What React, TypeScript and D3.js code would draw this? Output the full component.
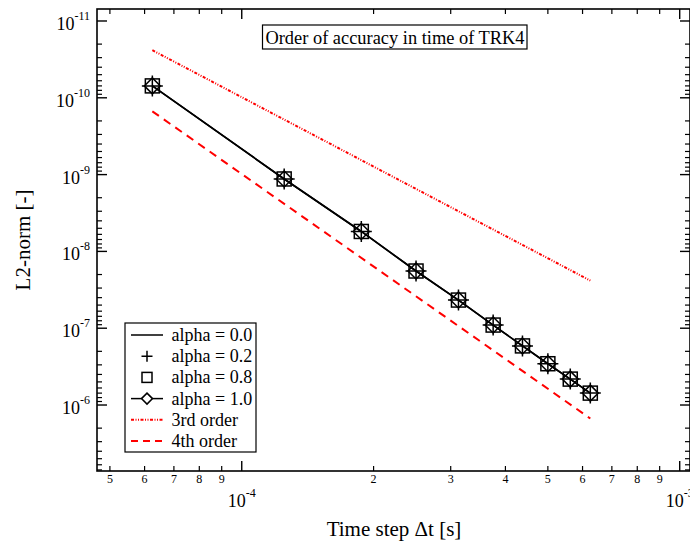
import React from "react";
import * as d3 from "d3";

const dt = [6.25e-5, 1.25e-4, 1.875e-4, 2.5e-4, 3.125e-4, 3.75e-4, 4.375e-4, 5e-4, 5.625e-4, 6.25e-4];
const errAlpha00 = [7.0e-11, 1.14e-9, 5.5e-9, 1.8e-8, 4.3e-8, 9.1e-8, 1.7e-7, 2.9e-7, 4.6e-7, 7.0e-7];
const errAlpha02 = [7.0e-11, 1.14e-9, 5.5e-9, 1.8e-8, 4.3e-8, 9.1e-8, 1.7e-7, 2.9e-7, 4.6e-7, 7.0e-7];
const errAlpha08 = [7.0e-11, 1.14e-9, 5.5e-9, 1.8e-8, 4.3e-8, 9.1e-8, 1.7e-7, 2.9e-7, 4.6e-7, 7.0e-7];
const errAlpha10 = [7.0e-11, 1.14e-9, 5.5e-9, 1.8e-8, 4.3e-8, 9.1e-8, 1.7e-7, 2.9e-7, 4.6e-7, 7.0e-7];
const refDt = [6.25e-5, 6.25e-4];
const ref3rd = [2.4e-11, 2.4e-8];
const ref4th = [1.5e-10, 1.5e-6];

const xMajorTicks = [1e-4, 1e-3];
const xMajorExp = ["-4", "-3"];
const xMinorTicks = [5e-5, 6e-5, 7e-5, 8e-5, 9e-5, 2e-4, 3e-4, 4e-4, 5e-4, 6e-4, 7e-4, 8e-4, 9e-4];
const xMinorLabels = ["5", "6", "7", "8", "9", "2", "3", "4", "5", "6", "7", "8", "9"];
const yMajorTicks = [1e-11, 1e-10, 1e-9, 1e-8, 1e-7, 1e-6];
const yMajorExp = ["-11", "-10", "-9", "-8", "-7", "-6"];
const yMinorMantissa = [2, 3, 4, 5, 6, 7, 8, 9];

const legendLabels = ["alpha = 0.0", "alpha = 0.2", "alpha = 0.8", "alpha = 1.0", "3rd order", "4th order"];

const FONT = "Liberation Serif, Times New Roman, DejaVu Serif, serif";
const L = 97, R = 690, T = 9, B = 471;

export default function App() {
  const x = d3.scaleLog().domain([4.672e-5, 1.0556e-3]).range([L, R]);
  const y = d3.scaleLog().domain([6.98e-12, 7.23e-6]).range([T, B]);

  const line = d3.line<[number, number]>().x(d => x(d[0])).y(d => y(d[1]));
  const mainPts: [number, number][] = dt.map((d, i) => [d, errAlpha00[i]]);
  const pts10: [number, number][] = dt.map((d, i) => [d, errAlpha10[i]]);
  const r3: [number, number][] = refDt.map((d, i) => [d, ref3rd[i]]);
  const r4: [number, number][] = refDt.map((d, i) => [d, ref4th[i]]);

  const yMinor: number[] = [];
  yMajorTicks.forEach(m => yMinorMantissa.forEach(k => { const v = m * k; if (v <= 7.2e-6) yMinor.push(v); }));

  const dash3 = "3,1.5,1,1.5,1,1.5";
  const dash4 = "8,6";

  const plus = (cx: number, cy: number, s: number) => `M${cx - s},${cy}H${cx + s}M${cx},${cy - s}V${cy + s}`;
  const diamond = (cx: number, cy: number, s: number) => `M${cx},${cy - s}L${cx + s},${cy}L${cx},${cy + s}L${cx - s},${cy}Z`;

  const legX = 125, legY = 323, legRow = 21.2, legFirst = 335;
  const ts: React.CSSProperties = { fontFamily: FONT };

  return (
    <svg width={690} height={545} style={{ position: "absolute", left: 0, top: 0, background: "#fff", fontFamily: FONT }}>
      <rect x={0} y={0} width={690} height={545} fill="#fff" />
      {/* reference lines */}
      <path d={line(r3) || ""} fill="none" stroke="#ff0000" strokeWidth={2} strokeDasharray={dash3} />
      <path d={line(r4) || ""} fill="none" stroke="#ff0000" strokeWidth={2} strokeDasharray={dash4} />
      {/* alpha lines */}
      <path d={line(mainPts) || ""} fill="none" stroke="#000" strokeWidth={1.6} />
      <path d={line(pts10) || ""} fill="none" stroke="#000" strokeWidth={1.6} />
      {/* markers */}
      {dt.map((d, i) => {
        const cx = x(d);
        return (
          <g key={"m" + i} fill="none" stroke="#000" strokeWidth={1.5}>
            <rect x={x(d) - 7} y={y(errAlpha08[i]) - 7} width={14} height={14} />
            <path d={diamond(cx, y(errAlpha10[i]), 8)} />
            <path d={plus(cx, y(errAlpha02[i]), 10.5)} />
          </g>
        );
      })}
      {/* frame */}
      <rect x={L} y={T} width={R - L} height={B - T} fill="none" stroke="#000" strokeWidth={1.6} />
      {/* x ticks */}
      {xMajorTicks.map((t, i) => (
        <g key={"xM" + i}>
          <line x1={x(t)} x2={x(t)} y1={B} y2={B - 10} stroke="#000" strokeWidth={1.4} />
          <line x1={x(t)} x2={x(t)} y1={T} y2={T + 10} stroke="#000" strokeWidth={1.4} />
          <text x={x(t)} y={507} textAnchor="middle" fontSize={18} style={ts}>
            10<tspan fontSize={12} dy={-10}>{xMajorExp[i]}</tspan>
          </text>
        </g>
      ))}
      {xMinorTicks.map((t, i) => (
        <g key={"xm" + i}>
          <line x1={x(t)} x2={x(t)} y1={B} y2={B - 5} stroke="#000" strokeWidth={1.2} />
          <line x1={x(t)} x2={x(t)} y1={T} y2={T + 5} stroke="#000" strokeWidth={1.2} />
          <text x={x(t)} y={483} textAnchor="middle" fontSize={12} style={ts}>{xMinorLabels[i]}</text>
        </g>
      ))}
      {/* y ticks */}
      {yMajorTicks.map((t, i) => (
        <g key={"yM" + i}>
          <line x1={L} x2={L + 10} y1={y(t)} y2={y(t)} stroke="#000" strokeWidth={1.4} />
          <line x1={R} x2={R - 10} y1={y(t)} y2={y(t)} stroke="#000" strokeWidth={1.4} />
          <text x={90} y={y(t) + 9} textAnchor="end" fontSize={18} style={ts}>
            10<tspan fontSize={12} dy={-10}>{yMajorExp[i]}</tspan>
          </text>
        </g>
      ))}
      {yMinor.map((t, i) => (
        <g key={"ym" + i}>
          <line x1={L} x2={L + 5} y1={y(t)} y2={y(t)} stroke="#000" strokeWidth={1.2} />
          <line x1={R} x2={R - 5} y1={y(t)} y2={y(t)} stroke="#000" strokeWidth={1.2} />
        </g>
      ))}
      {/* axis titles */}
      <text x={394} y={536} textAnchor="middle" fontSize={21} style={ts}>Time step Δt [s]</text>
      <text transform="translate(30,240) rotate(-90)" textAnchor="middle" fontSize={21} style={ts}>L2-norm [-]</text>
      {/* title box */}
      <rect x={262.5} y={25} width={264.5} height={24} fill="#fff" stroke="#000" strokeWidth={1.2} />
      <text x={395} y={43.5} textAnchor="middle" fontSize={18.4} style={ts}>Order of accuracy in time of TRK4</text>
      {/* legend */}
      <rect x={legX} y={legY} width={131} height={129} fill="#fff" stroke="#000" strokeWidth={1.2} />
      {legendLabels.map((lab, i) => {
        const cy = legFirst + i * legRow;
        let sym: React.ReactNode = null;
        if (i === 0) sym = <line x1={131} x2={163} y1={cy} y2={cy} stroke="#000" strokeWidth={1.5} />;
        if (i === 1) sym = <path d={plus(147, cy, 5.5)} stroke="#000" strokeWidth={1.5} fill="none" />;
        if (i === 2) sym = <rect x={142} y={cy - 5} width={10} height={10} stroke="#000" strokeWidth={1.5} fill="none" />;
        if (i === 3) sym = (
          <g stroke="#000" strokeWidth={1.5} fill="none">
            <line x1={131} x2={163} y1={cy} y2={cy} />
            <path d={diamond(147, cy, 5.5)} fill="#fff" />
          </g>
        );
        if (i === 4) sym = <line x1={131} x2={163} y1={cy} y2={cy} stroke="#ff0000" strokeWidth={2} strokeDasharray={dash3} />;
        if (i === 5) sym = <line x1={131} x2={163} y1={cy} y2={cy} stroke="#ff0000" strokeWidth={2} strokeDasharray="7,5" />;
        return (
          <g key={"lg" + i}>
            {sym}
            <text x={171.5} y={cy + 6} fontSize={18} style={ts}>{lab}</text>
          </g>
        );
      })}
    </svg>
  );
}
